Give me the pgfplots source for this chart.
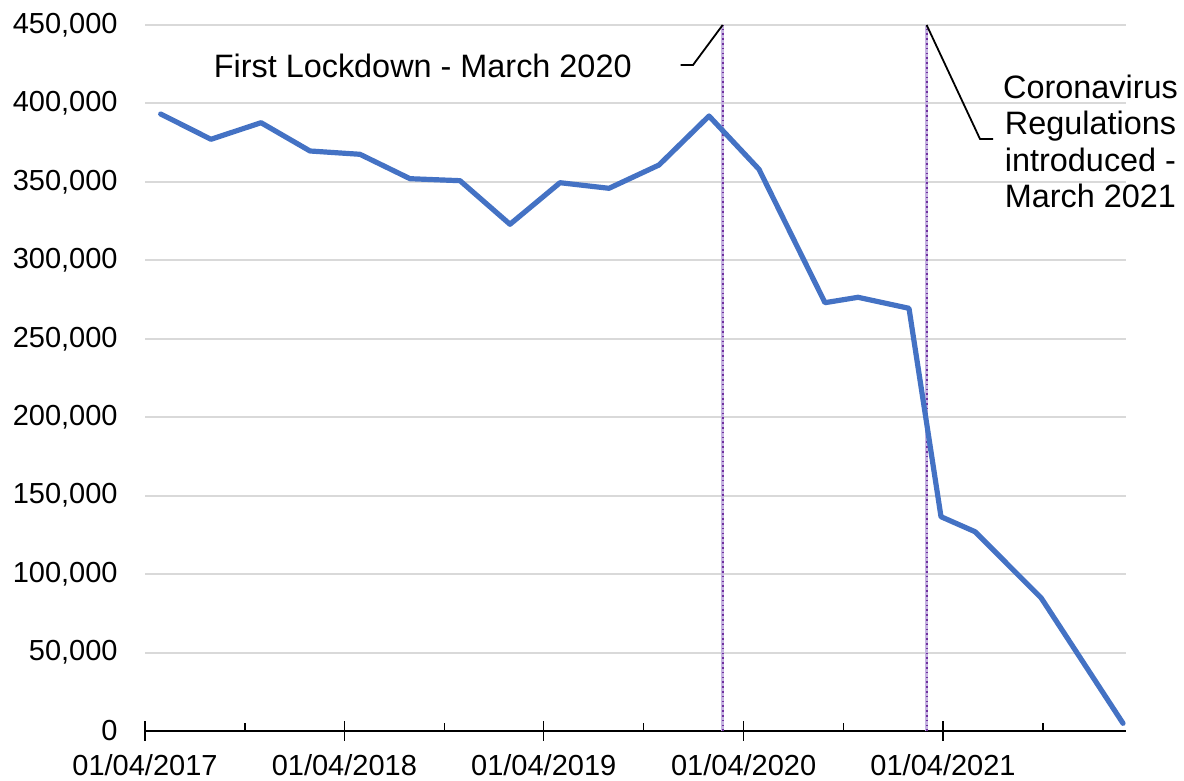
\documentclass[border=0pt]{standalone}
\usepackage{fontspec}
\setmainfont{Liberation Sans}
\usepackage{pgfplots}
\pgfplotsset{compat=1.18}

\definecolor{lineblue}{HTML}{4472C4}
\definecolor{gridgray}{HTML}{D9D9D9}
\definecolor{markpurple}{HTML}{7030A0}
\definecolor{marklight}{HTML}{C4B3E0}

% x = days since 01/04/2017
\pgfplotstableread{
day value
28.7 393270
120.8 377140
212.4 387730
302.1 369690
393.6 367580
485.2 352030
576.7 350760
668.2 322970
759.8 349480
849.5 345910
941.0 360760
1032.6 391990
1124.1 358020
1244.9 273000
1305.4 276440
1398.7 269420
1457.3 136590
1519.6 127030
1640.4 84960
1790.5 4910
}\counts

\newcommand{\chartfont}{\fontsize{14.5bp}{18.25bp}\selectfont}
\newcommand{\notefont}{\fontsize{16.2bp}{18.2bp}\selectfont}

\begin{document}
\begin{tikzpicture}
\useasboundingbox (0,0) rectangle (592bp,390.5bp);
\begin{axis}[
  at={(72.5bp,25bp)}, anchor=south west,
  scale only axis, width=490.5bp, height=353bp,
  xmin=0, xmax=1796, ymin=0, ymax=450000,
  axis x line*=bottom, axis y line*=left,
  x axis line style={black, line width=0.75bp},
  y axis line style={draw=none},
  clip=false,
  ytick={0,50000,...,450000},
  ymajorgrids, grid style={gridgray, line width=1bp},
  ytick style={draw=none},
  scaled y ticks=false,
  /pgf/number format/assume math mode=true,
  /pgf/number format/fixed,
  /pgf/number format/1000 sep={,},
  yticklabel style={anchor=east, inner sep=0pt, xshift=-8.75bp},
  tick label style={font=\chartfont},
  xtick={0,365,730,1096,1461},
  xticklabels={01/04/2017,01/04/2018,01/04/2019,01/04/2020,01/04/2021},
  xtick style={black, line width=0.75bp},
  tick align=center,
  major tick length=9.5bp,
  xticklabel style={anchor=north, inner sep=0pt, yshift=-7bp},
  extra x ticks={183,548,913,1279,1644},
  extra x tick labels={},
  extra x tick style={tick align=inside, major tick length=4bp},
]
\addplot[marklight, line width=1.5bp] coordinates {(1057.6,0) (1057.6,450000)};
\addplot[markpurple, line width=1.1bp, dash pattern=on 0.8bp off 1.6bp] coordinates {(1057.6,0) (1057.6,450000)};
\addplot[marklight, line width=1.5bp] coordinates {(1431,0) (1431,450000)};
\addplot[markpurple, line width=1.1bp, dash pattern=on 0.8bp off 1.6bp] coordinates {(1431,0) (1431,450000)};

\addplot[lineblue, line width=2.6bp, line join=round, line cap=round] table[x=day, y=value] {\counts};

\draw[black, line width=0.9bp] (axis cs:1057.6,450000) -- (axis cs:1003.3,424500) -- (axis cs:980.7,424500);
\node[anchor=base east, inner sep=0pt, font=\notefont] at (axis cs:891.6,416600) {First Lockdown - March 2020};

\draw[black, line width=0.9bp] (axis cs:1431,450000) -- (axis cs:1528.7,377340) -- (axis cs:1552.5,377340);
\node[anchor=north, align=center, inner sep=0pt, font=\notefont] at (axis cs:1731,418500) {Coronavirus\\Regulations\\introduced -\\March 2021};
\end{axis}
\end{tikzpicture}
\end{document}
